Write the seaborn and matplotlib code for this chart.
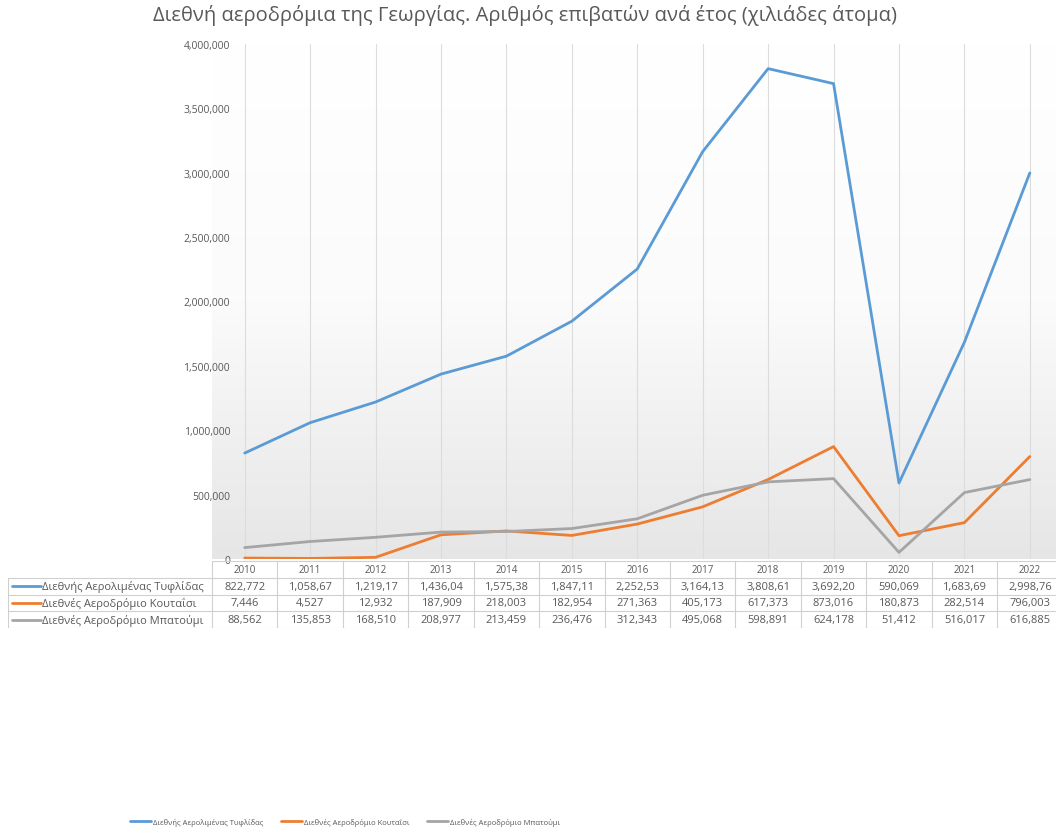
import numpy as np
import pandas as pd
import matplotlib.pyplot as plt
import matplotlib.ticker as mticker
from matplotlib.lines import Line2D
import seaborn as sns

# Δεδομένα από τον πίνακα του γραφήματος
years = ["2010", "2011", "2012", "2013", "2014", "2015", "2016",
         "2017", "2018", "2019", "2020", "2021", "2022"]
series_names = ["Διεθνής Αερολιμένας Τυφλίδας",
                "Διεθνές Αεροδρόμιο Κουταΐσι",
                "Διεθνές Αεροδρόμιο Μπατούμι"]
tbilisi = [822772, 1058670, 1219170, 1436040, 1575380, 1847110, 2252530,
           3164130, 3808610, 3692200, 590069, 1683690, 2998760]
kutaisi = [7446, 4527, 12932, 187909, 218003, 182954, 271363,
           405173, 617373, 873016, 180873, 282514, 796003]
batumi = [88562, 135853, 168510, 208977, 213459, 236476, 312343,
          495068, 598891, 624178, 51412, 516017, 616885]
# κείμενο κελιών όπως φαίνεται (κομμένο) στον πίνακα
tbilisi_cells = ["822,772", "1,058,67", "1,219,17", "1,436,04", "1,575,38",
                 "1,847,11", "2,252,53", "3,164,13", "3,808,61", "3,692,20",
                 "590,069", "1,683,69", "2,998,76"]
colors = ["#5B9BD5", "#ED7D31", "#A5A5A5"]
title = "Διεθνή αεροδρόμια της Γεωργίας. Αριθμός επιβατών ανά έτος (χιλιάδες άτομα)"

values = [tbilisi, kutaisi, batumi]
df = pd.DataFrame({
    "Έτος": np.tile(np.arange(len(years)), 3),
    "Επιβάτες": np.concatenate(values),
    "Αεροδρόμιο": np.repeat(series_names, len(years)),
})

sns.set_theme(style="white")
plt.rcParams["font.family"] = ["Open Sans", "DejaVu Sans"]
txt = "#595959"

W, H = 1056, 837
fig = plt.figure(figsize=(W / 100, H / 100), dpi=100)
fig.patch.set_facecolor("white")

def px(x0, y0, x1, y1):
    return [x0 / W, 1 - y1 / H, (x1 - x0) / W, (y1 - y0) / H]

ax = fig.add_axes(px(212, 45, 1056, 560))
xmin, xmax = -0.5, 12.4

# φόντο με διαβάθμιση (λευκό πάνω, ανοιχτό γκρι κάτω)
grad = np.linspace(0, 1, 256).reshape(-1, 1)
ax.imshow(grad, extent=[xmin, xmax, 0, 4_000_000], aspect="auto",
          cmap=sns.blend_palette(["#e6e6e6", "#fbfbfb", "#ffffff"], as_cmap=True),
          origin="lower", zorder=0)

for i in range(len(years)):
    ax.axvline(i, color="#dcdcdc", lw=0.8, zorder=1)

sns.lineplot(data=df, x="Έτος", y="Επιβάτες", hue="Αεροδρόμιο",
             palette=colors, linewidth=2.0, ax=ax, legend=False, zorder=3)

ax.set_xlim(xmin, xmax)
ax.set_ylim(0, 4_000_000)
ax.yaxis.set_major_locator(mticker.MultipleLocator(500_000))
ax.yaxis.set_major_formatter(mticker.FuncFormatter(lambda v, p: f"{int(v):,}"))
ax.tick_params(axis="y", labelsize=7.5, colors=txt, length=0, pad=-13)
for lbl in ax.get_yticklabels():
    lbl.set_zorder(5)
ax.set_xticks([])
ax.set_xlabel("")
ax.set_ylabel("")
for s in ax.spines.values():
    s.set_visible(False)

fig.text(525 / W, 1 - 15 / H, title, ha="center", va="center",
         fontsize=14.5, color=txt)

# πίνακας δεδομένων
tab = fig.add_axes(px(8, 562, 1056, 629))
left = xmin - (212 - 8) / ((1056 - 212) / (xmax - xmin))
tab.set_xlim(left, xmax)
tab.set_ylim(4, 0)
tab.axis("off")
gc = "#d0d0d0"
tab.plot([xmin, xmax], [0, 0], color=gc, lw=0.8)
for r in range(1, 5):
    tab.plot([left, xmax], [r, r], color=gc, lw=0.8)
tab.plot([left, left], [1, 4], color=gc, lw=0.8)
for i in range(len(years) + 1):
    tab.plot([i - 0.5, i - 0.5], [0, 4], color=gc, lw=0.8)

for i, y in enumerate(years):
    tab.text(i, 0.5, y, ha="center", va="center", fontsize=7, color=txt)
cells = [tbilisi_cells,
         [f"{v:,}" for v in kutaisi],
         [f"{v:,}" for v in batumi]]
for r, (name, col, row) in enumerate(zip(series_names, colors, cells)):
    yy = r + 1.5
    tab.plot([left + 0.06, left + 0.5], [yy, yy], color=col, lw=2)
    tab.text(left + 0.52, yy, name, ha="left", va="center", fontsize=8,
             color=txt)
    for i, v in enumerate(row):
        tab.text(i, yy, v, ha="center", va="center", fontsize=8, color=txt)

handles = [Line2D([], [], color=c, lw=2) for c in colors]
leg = fig.legend(handles, series_names, loc="center",
                 bbox_to_anchor=(345 / W, 1 - 823 / H), ncol=3, frameon=False,
                 fontsize=5.5, handlelength=2.8, columnspacing=2.2,
                 handletextpad=0.3)
for t in leg.get_texts():
    t.set_color(txt)

fig.savefig("out.png", dpi=100)
